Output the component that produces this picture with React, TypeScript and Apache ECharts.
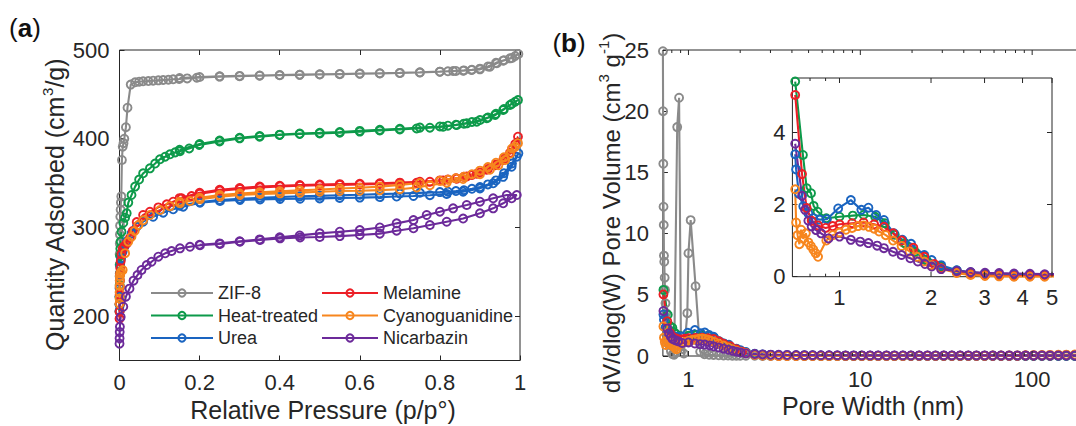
import React, { useEffect, useRef } from 'react';
import * as echarts from 'echarts';

const FONT = "'Liberation Sans', Arial, Helvetica, sans-serif";
const INK = '#262626';

// ---------- Panel (a): N2 isotherms ----------
const sampleNames = ['ZIF-8', 'Heat-treated', 'Urea', 'Melamine', 'Cyanoguanidine', 'Nicarbazin'];
const sampleColors = ['#8a8a8a', '#0d9a4a', '#1a64c0', '#ec1f26', '#f7861e', '#6c2a9a'];

const pTicks = [0, 0.2, 0.4, 0.6, 0.8, 1];
const qTicks = [200, 300, 400, 500];

const zif8Ads: [number, number][] = [
  [0.00005, 222], [0.0001, 232], [0.0002, 245], [0.0003, 258], [0.0005, 270], [0.0007, 282], [0.001, 292],
  [0.0014, 302], [0.002, 312], [0.0028, 320], [0.0035, 328], [0.0045, 335], [0.006, 376], [0.008, 391],
  [0.01, 395], [0.012, 400], [0.016, 413], [0.02, 435], [0.028, 461], [0.039, 463.6], [0.049, 464.3],
  [0.059, 464.7], [0.072, 465], [0.084, 465.4], [0.097, 465.8], [0.109, 466.2], [0.122, 466.5], [0.134, 467],
  [0.149, 467.3], [0.169, 468], [0.193, 468.8], [0.25, 470], [0.3, 470.5], [0.35, 471], [0.4, 471.5],
  [0.45, 472], [0.5, 472.4], [0.55, 472.8], [0.6, 473.2], [0.65, 473.6], [0.7, 474], [0.75, 474.6],
  [0.8, 475.5], [0.833, 476.3], [0.858, 476.7], [0.879, 477.5], [0.9, 478.2], [0.925, 481.2], [0.942, 485],
  [0.958, 488], [0.975, 490.6], [0.988, 493.2], [0.996, 495.5],
];
const zif8Des: [number, number][] = [
  [0.98, 491], [0.96, 488.5], [0.94, 485.5], [0.92, 481.5], [0.9, 479], [0.88, 477.8], [0.86, 477],
  [0.84, 476.4], [0.82, 476], [0.8, 475.6], [0.75, 474.8], [0.7, 474.2], [0.65, 473.8], [0.6, 473.4],
  [0.55, 473], [0.5, 472.6], [0.45, 472.2], [0.4, 471.8], [0.35, 471.3], [0.3, 470.8], [0.25, 470.3],
  [0.2, 469.5], [0.15, 468.5],
];
const heatAds: [number, number][] = [
  [0.00005, 205], [0.0001, 213], [0.0002, 222], [0.0004, 235], [0.0007, 248], [0.001, 258], [0.0015, 268],
  [0.002, 276], [0.003, 284], [0.005, 295], [0.0095, 305], [0.014, 311], [0.018, 316], [0.022, 328],
  [0.03, 336.5], [0.039, 346], [0.049, 354], [0.059, 361], [0.076, 366.6], [0.089, 372], [0.101, 376.8],
  [0.114, 379.7], [0.126, 382.4], [0.139, 384.6], [0.151, 386], [0.174, 389], [0.199, 392.9], [0.25, 397],
  [0.3, 400.4], [0.35, 402.3], [0.4, 404.2], [0.45, 405.3], [0.5, 406], [0.55, 406.8], [0.6, 408],
  [0.65, 409.2], [0.7, 410.4], [0.742, 411.6], [0.775, 412.4], [0.808, 413.5], [0.842, 415.4], [0.867, 417.3],
  [0.892, 419.2], [0.917, 423], [0.938, 426.7], [0.958, 432.4], [0.975, 438], [0.988, 441.7], [0.995, 443.6],
];
const heatDes: [number, number][] = [
  [0.98, 439.5], [0.96, 433.5], [0.94, 428], [0.92, 424], [0.9, 421], [0.88, 418.8], [0.86, 417],
  [0.84, 415.8], [0.82, 414.7], [0.8, 413.8], [0.75, 412.5], [0.7, 411.2], [0.65, 410], [0.6, 408.8],
  [0.55, 407.6], [0.5, 406.6], [0.45, 405.8], [0.4, 404.6], [0.35, 403], [0.3, 401], [0.25, 398],
  [0.2, 394], [0.15, 387.5],
];
const ureaAds: [number, number][] = [
  [0.00005, 206], [0.0001, 213], [0.0002, 222], [0.0004, 231], [0.0007, 240], [0.001, 247], [0.002, 256],
  [0.004, 265], [0.008, 273], [0.012, 278], [0.018, 284], [0.03, 293], [0.043, 300.8], [0.059, 306.5],
  [0.084, 312], [0.109, 316.6], [0.134, 320.4], [0.159, 323.4], [0.201, 327.8], [0.251, 329.8], [0.301, 331],
  [0.351, 331.6], [0.401, 332], [0.451, 332.3], [0.5, 332.7], [0.55, 333.3], [0.6, 333.6], [0.65, 334.2],
  [0.692, 334.8], [0.734, 335.4], [0.775, 336.3], [0.817, 337.7], [0.858, 340.3], [0.9, 344], [0.933, 349.7],
  [0.958, 357], [0.979, 368.4], [0.992, 379.7], [0.996, 383.5],
];
const ureaDes: [number, number][] = [
  [0.98, 372], [0.96, 361], [0.94, 353], [0.92, 348.5], [0.9, 345.5], [0.88, 343.5], [0.86, 342],
  [0.84, 341], [0.82, 340.3], [0.8, 339.8], [0.75, 339], [0.7, 338.2], [0.65, 337.5], [0.6, 336.8],
  [0.55, 336.2], [0.5, 335.6], [0.45, 335], [0.4, 334.3], [0.35, 333.4], [0.3, 332.4], [0.25, 331],
  [0.2, 328.6], [0.15, 324.5],
];
const melamineAds: [number, number][] = [
  [0.00005, 197], [0.0001, 205], [0.0002, 214], [0.0004, 224], [0.0007, 233], [0.001, 240], [0.0015, 248],
  [0.002, 254], [0.003, 262], [0.005, 270], [0.008, 276], [0.012, 279], [0.018, 282], [0.026, 288],
  [0.033, 296], [0.043, 306], [0.059, 314], [0.076, 317.7], [0.097, 322.6], [0.118, 326], [0.134, 329],
  [0.155, 332.8], [0.18, 335.4], [0.201, 338], [0.251, 341.5], [0.301, 343.5], [0.351, 345.2], [0.401, 346.2],
  [0.451, 347], [0.5, 347.5], [0.55, 348], [0.6, 348.5], [0.65, 349], [0.7, 349.5], [0.742, 350.3],
  [0.775, 351.5], [0.808, 353], [0.842, 355], [0.867, 357.5], [0.892, 360.5], [0.917, 365], [0.938, 370],
  [0.958, 376], [0.975, 384], [0.988, 394], [0.995, 402.3],
];
const melamineDes: [number, number][] = [
  [0.98, 388], [0.96, 378], [0.94, 371], [0.92, 366], [0.9, 362], [0.88, 359], [0.86, 357], [0.84, 355.5],
  [0.82, 354], [0.8, 353], [0.75, 351.5], [0.7, 350.5], [0.65, 349.8], [0.6, 349.3], [0.55, 348.8],
  [0.5, 348.3], [0.45, 347.8], [0.4, 347], [0.35, 346], [0.3, 344.5], [0.25, 342.5], [0.2, 339], [0.15, 333],
];
const cyanoAds: [number, number][] = [
  [0.00005, 214], [0.0001, 220], [0.0002, 227], [0.0004, 234], [0.0007, 240], [0.001, 245], [0.002, 248],
  [0.004, 250], [0.008, 252], [0.014, 271], [0.022, 284], [0.03, 289.5], [0.038, 296], [0.047, 302.7],
  [0.059, 308], [0.076, 314], [0.101, 319.6], [0.126, 324], [0.151, 327.2], [0.176, 329.8], [0.201, 331.7],
  [0.251, 334.6], [0.301, 336.5], [0.351, 337.7], [0.401, 338.4], [0.451, 339.2], [0.5, 340.3], [0.55, 341],
  [0.6, 341.3], [0.65, 342], [0.7, 343], [0.742, 345], [0.775, 347.5], [0.817, 350.5], [0.858, 354.5],
  [0.9, 360], [0.925, 365], [0.946, 370], [0.963, 376], [0.975, 383], [0.988, 391], [0.995, 395],
];
const cyanoDes: [number, number][] = [
  [0.98, 389], [0.96, 379], [0.94, 373], [0.92, 368], [0.9, 364], [0.88, 360], [0.86, 357.2], [0.84, 355.5],
  [0.82, 353.8], [0.8, 352.5], [0.75, 350], [0.7, 348], [0.65, 346], [0.6, 344.8], [0.55, 343.8],
  [0.5, 342.8], [0.45, 341.8], [0.4, 340.8], [0.35, 339.7], [0.3, 338.3], [0.25, 336.5], [0.2, 333.5],
  [0.15, 329],
];
const nicarbazinAds: [number, number][] = [
  [0.00005, 169], [0.0002, 175], [0.0005, 182], [0.001, 188], [0.003, 199], [0.0095, 210.6], [0.016, 222],
  [0.025, 231], [0.035, 240], [0.045, 246.3], [0.055, 252], [0.068, 257.6], [0.08, 261.3], [0.097, 267],
  [0.114, 270.8], [0.13, 273.4], [0.151, 276.4], [0.176, 278.2], [0.201, 280], [0.251, 281.3], [0.301, 283.9],
  [0.351, 285.8], [0.401, 287.7], [0.451, 288.7], [0.5, 289.2], [0.55, 290.2], [0.6, 291.5], [0.65, 293],
  [0.692, 296.3], [0.734, 299], [0.775, 302.7], [0.817, 306.4], [0.858, 310], [0.9, 315.9], [0.933, 321.5],
  [0.958, 327.2], [0.979, 332.8], [0.992, 336.5],
];
const nicarbazinDes: [number, number][] = [
  [0.967, 336.5], [0.933, 332.8], [0.9, 329], [0.867, 325.3], [0.833, 321.5], [0.8, 317.7], [0.767, 314],
  [0.734, 308.3], [0.692, 304.6], [0.65, 300], [0.6, 297], [0.55, 295.2], [0.5, 293.3], [0.45, 291],
  [0.4, 288.8], [0.35, 286.5], [0.3, 284.5], [0.25, 282], [0.2, 280.5],
];

// ---------- Panel (b): pore size distributions ----------
const widthTicks = [1, 10, 100];
const widthMinorTicks = [0.8, 0.9, 2, 3, 4, 5, 6, 7, 8, 9, 20, 30, 40, 50, 60, 70, 80, 90];
const insetWidthTicks = [1, 2, 3, 4, 5];
const insetWidthMinorTicks = [0.8, 0.9];
const insetVolTicks = [0, 2, 4];

const tailW = [2.16, 2.43, 2.70, 3.01, 3.35, 3.75, 4.23, 4.73, 5.28, 5.9, 6.58, 7.35, 8.2, 9.15, 10.2, 11.4,
  12.7, 14.2, 15.8, 17.7, 19.7, 22.0, 24.6, 27.4, 30.6, 34.1, 38.1, 42.5, 47.4, 52.9, 59.0, 65.9, 73.5, 82.0,
  91.5, 102, 114, 127, 142, 158, 177, 197];

const zifW = [0.71, 0.712, 0.714, 0.716, 0.718, 0.72, 0.723, 0.727, 0.73, 0.735, 0.742, 0.75, 0.76, 0.775,
  0.79, 0.81, 0.826, 0.86, 0.882, 0.905, 0.94, 0.985, 1.0, 1.03, 1.10, 1.17, 1.24, 1.32, 1.4, 1.5, 1.6, 1.7,
  1.8, 1.9, 2.0];
const zifV = [24.9, 20.0, 15.7, 12.2, 10.7, 8.2, 7.7, 6.4, 5.4, 4.3, 3.5, 2.5, 1.6, 0.9, 0.4, 0.15, 0.1,
  18.7, 21.1, 0.3, 0.2, 3.5, 8.4, 11.1, 5.7, 0.35, 0.15, 0.1, 0.08, 0.06, 0.05, 0.04, 0.03, 0.03, 0.02];
const zifTail = [0.02, 0.02, 0.01, 0.01, 0.01, 0.01, 0.01, 0.01, 0.01, 0.01, 0.01, 0.01, 0.01, 0.01, 0.01,
  0.01, 0.01, 0.01, 0.01, 0.01, 0.01, 0.01, 0.01, 0.01, 0.01, 0.01, 0.01, 0.01, 0.01, 0.01, 0.01, 0.01, 0.01,
  0.01, 0.01, 0.01, 0.01, 0.01, 0.01, 0.01, 0.01, 0.01];

const heatW = [0.715, 0.758, 0.78, 0.806, 0.822, 0.847, 0.905, 1.0, 1.106, 1.20, 1.31, 1.41, 1.52, 1.64, 1.77, 1.93];
const heatV = [5.4, 3.37, 2.45, 2.31, 1.96, 1.8, 1.62, 1.66, 1.69, 1.71, 1.66, 1.48, 1.16, 0.93, 0.69, 0.46];
const heatTail = [0.28, 0.17, 0.11, 0.08, 0.06, 0.05, 0.04, 0.04, 0.04, 0.03, 0.03, 0.03, 0.03, 0.03, 0.02,
  0.02, 0.02, 0.02, 0.02, 0.02, 0.02, 0.02, 0.02, 0.02, 0.02, 0.02, 0.02, 0.02, 0.02, 0.02, 0.02, 0.02, 0.02,
  0.02, 0.02, 0.02, 0.03, 0.03, 0.03, 0.03, 0.03, 0.03];

const ureaW = [0.715, 0.72, 0.735, 0.76, 0.79, 0.82, 0.86, 0.909, 0.99, 1.09, 1.18, 1.245, 1.32, 1.40, 1.51,
  1.61, 1.72, 1.90, 2.01];
const ureaV = [3.39, 2.97, 2.3, 1.95, 1.75, 1.62, 1.58, 1.59, 1.89, 2.12, 1.85, 1.91, 1.71, 1.57, 1.2, 1.02,
  0.91, 0.6, 0.46];
const ureaTail = [0.32, 0.18, 0.12, 0.09, 0.07, 0.06, 0.05, 0.05, 0.04, 0.04, 0.04, 0.03, 0.03, 0.03, 0.03,
  0.03, 0.03, 0.02, 0.02, 0.02, 0.02, 0.02, 0.02, 0.02, 0.02, 0.02, 0.02, 0.02, 0.02, 0.02, 0.02, 0.02, 0.02,
  0.02, 0.02, 0.02, 0.02, 0.03, 0.03, 0.03, 0.03, 0.03];

const melamineW = [0.715, 0.753, 0.78, 0.81, 0.85, 0.90, 0.95, 1.0, 1.1, 1.2, 1.3, 1.4, 1.5, 1.6, 1.75, 1.9, 2.05];
const melamineV = [5.03, 2.84, 1.9, 1.55, 1.42, 1.35, 1.4, 1.45, 1.48, 1.5, 1.45, 1.38, 1.2, 1.0, 0.8, 0.55, 0.35];
const melamineTail = [0.24, 0.12, 0.07, 0.04, 0.03, 0.02, 0.02, 0.02, 0.02, 0.02, 0.02, 0.02, 0.02, 0.02,
  0.02, 0.02, 0.02, 0.02, 0.02, 0.02, 0.02, 0.02, 0.02, 0.02, 0.02, 0.02, 0.02, 0.02, 0.03, 0.03, 0.03, 0.03,
  0.03, 0.03, 0.04, 0.04, 0.05, 0.05, 0.06, 0.06, 0.07, 0.07];

const cyanoW = [0.715, 0.72, 0.728, 0.738, 0.748, 0.76, 0.775, 0.79, 0.805, 0.82, 0.835, 0.85, 0.905, 0.95,
  1.0, 1.05, 1.1, 1.15, 1.2, 1.25, 1.3, 1.35, 1.42, 1.5, 1.6, 1.7, 1.8, 1.9, 2.0];
const cyanoV = [2.42, 1.5, 1.15, 0.9, 1.3, 1.05, 1.2, 0.95, 0.85, 0.75, 0.65, 0.55, 1.0, 1.15, 1.22, 1.3,
  1.35, 1.4, 1.42, 1.38, 1.33, 1.25, 1.15, 1.0, 0.85, 0.7, 0.55, 0.42, 0.32];
const cyanoTail = [0.22, 0.1, 0.05, 0.02, 0.01, 0.0, 0.0, 0.0, 0.0, 0.01, 0.01, 0.01, 0.01, 0.01, 0.01,
  0.01, 0.01, 0.01, 0.01, 0.01, 0.02, 0.02, 0.02, 0.02, 0.02, 0.02, 0.03, 0.03, 0.03, 0.03, 0.04, 0.04, 0.05,
  0.05, 0.06, 0.07, 0.08, 0.09, 0.1, 0.11, 0.12, 0.13];

const nicarbazinW = [0.715, 0.753, 0.77, 0.79, 0.81, 0.838, 0.87, 0.92, 1.0, 1.09, 1.17, 1.245, 1.33, 1.40,
  1.50, 1.60, 1.71, 1.81, 1.91, 2.01];
const nicarbazinV = [3.68, 2.24, 1.85, 1.55, 1.39, 1.29, 1.20, 1.06, 1.11, 1.02, 0.97, 0.93, 0.86, 0.79,
  0.69, 0.60, 0.51, 0.42, 0.35, 0.28];
const nicarbazinTail = [0.21, 0.16, 0.13, 0.11, 0.10, 0.09, 0.08, 0.07, 0.07, 0.06, 0.06, 0.06, 0.05, 0.05,
  0.05, 0.05, 0.05, 0.05, 0.05, 0.05, 0.05, 0.05, 0.05, 0.05, 0.05, 0.05, 0.05, 0.05, 0.05, 0.05, 0.05, 0.05,
  0.05, 0.05, 0.05, 0.05, 0.05, 0.05, 0.05, 0.05, 0.05, 0.05];

// ---------- helpers ----------
const zip = (xs: number[], ys: number[]) => xs.slice(0, Math.min(xs.length, ys.length)).map((x, i) => [x, ys[i]]);

const isotherms = [
  zif8Ads.concat(zif8Des), heatAds.concat(heatDes), ureaAds.concat(ureaDes),
  melamineAds.concat(melamineDes), cyanoAds.concat(cyanoDes), nicarbazinAds.concat(nicarbazinDes),
];
const psd = [
  zip(zifW.concat(tailW), zifV.concat(zifTail)),
  zip(heatW.concat(tailW), heatV.concat(heatTail)),
  zip(ureaW.concat(tailW), ureaV.concat(ureaTail)),
  zip(melamineW.concat(tailW), melamineV.concat(melamineTail)),
  zip(cyanoW.concat(tailW), cyanoV.concat(cyanoTail)),
  zip(nicarbazinW.concat(tailW), nicarbazinV.concat(nicarbazinTail)),
];

function lineSeries(name: string, color: string, data: any[], xi: number, yi: number) {
  return {
    type: 'line', name, data, xAxisIndex: xi, yAxisIndex: yi,
    symbol: 'circle', symbolSize: 8, showSymbol: true, showAllSymbol: true,
    lineStyle: { color, width: 2.1 },
    itemStyle: { color: 'rgba(255,255,255,0)', borderColor: color, borderWidth: 1.9 },
    emphasis: { disabled: true }, silent: true, clip: true, z: 3,
  };
}

// Mirrored (top + bottom) inside ticks on a log x axis, placed through the axis scale.
function logTickSeries(xi: number, yi: number, major: number[], minor: number[]) {
  const data = major.map((v) => [v, 1]).concat(minor.map((v) => [v, 0]));
  return {
    type: 'custom', xAxisIndex: xi, yAxisIndex: yi, silent: true, z: 10, clip: false,
    data, encode: { x: 0, y: 1 },
    renderItem: (params: any, api: any) => {
      const v = api.value(0);
      const isMajor = api.value(1) === 1;
      const cs = params.coordSys;
      const x = api.coord([v, 0])[0];
      const L = isMajor ? 5 : 3;
      const style = { stroke: INK, lineWidth: 1 };
      return {
        type: 'group',
        children: [
          { type: 'line', shape: { x1: x, y1: cs.y + cs.height, x2: x, y2: cs.y + cs.height - L }, style },
          { type: 'line', shape: { x1: x, y1: cs.y, x2: x, y2: cs.y + L }, style },
        ],
      };
    },
  };
}

const noLine = { show: false, onZero: false };
const tickStyle = { color: INK, width: 1 };
const lbl = (margin: number, extra: any = {}) => ({
  show: true, color: INK, fontFamily: FONT, fontSize: 22, margin, ...extra,
});
const noSplit = { show: false };
const gridBox = { show: true, backgroundColor: 'transparent', borderColor: INK, borderWidth: 1, containLabel: false, outerBoundsMode: 'none' };

function buildOption() {
  const xAxis: any[] = [
    // 0: (a) bottom
    { type: 'value', gridIndex: 0, min: 0, max: 1, position: 'bottom', axisLine: noLine,
      axisTick: { show: true, inside: true, length: 5, lineStyle: tickStyle, customValues: pTicks },
      axisLabel: lbl(11, { customValues: pTicks, formatter: (v: number) => String(v) }), splitLine: noSplit },
    // 1: (a) top
    { type: 'value', gridIndex: 0, min: 0, max: 1, position: 'top', axisLine: noLine,
      axisTick: { show: true, inside: true, length: 5, lineStyle: tickStyle, customValues: pTicks },
      axisLabel: { show: false }, splitLine: noSplit },
    // 2: (b) pore width, log
    { type: 'log', logBase: 10, gridIndex: 1, min: 0.71, max: 200, position: 'bottom', axisLine: noLine,
      axisTick: { show: false }, axisLabel: lbl(12, { customValues: widthTicks }), splitLine: noSplit },
    // 3: inset pore width, log
    { type: 'log', logBase: 10, gridIndex: 2, min: 0.7, max: 5, position: 'bottom', axisLine: noLine,
      axisTick: { show: false }, axisLabel: lbl(10, { customValues: insetWidthTicks }), splitLine: noSplit },
  ];
  const yAxis: any[] = [
    // 0: (a) left
    { type: 'value', gridIndex: 0, min: 150, max: 500, position: 'left', axisLine: noLine,
      axisTick: { show: true, inside: true, length: 5, lineStyle: tickStyle, customValues: qTicks },
      axisLabel: lbl(10, { customValues: qTicks }), splitLine: noSplit },
    // 1: (a) right
    { type: 'value', gridIndex: 0, min: 150, max: 500, position: 'right', axisLine: noLine,
      axisTick: { show: true, inside: true, length: 5, lineStyle: tickStyle, customValues: qTicks },
      axisLabel: { show: false }, splitLine: noSplit },
    // 2: (b) left
    { type: 'value', gridIndex: 1, min: 0, max: 25, interval: 5, position: 'left', axisLine: noLine,
      axisTick: { show: true, inside: true, length: 5, lineStyle: tickStyle },
      axisLabel: lbl(14), splitLine: noSplit },
    // 3: inset left
    { type: 'value', gridIndex: 2, min: 0, max: 5.5, position: 'left', axisLine: noLine,
      axisTick: { show: true, inside: true, length: 5, lineStyle: tickStyle, customValues: insetVolTicks },
      axisLabel: lbl(7, { customValues: insetVolTicks }), splitLine: noSplit },
    // 4: inset right
    { type: 'value', gridIndex: 2, min: 0, max: 5.5, position: 'right', axisLine: noLine,
      axisTick: { show: true, inside: true, length: 5, lineStyle: tickStyle, customValues: insetVolTicks },
      axisLabel: { show: false }, splitLine: noSplit },
  ];

  const series: any[] = [];
  sampleNames.forEach((n, i) => series.push(lineSeries(n, sampleColors[i], isotherms[i], 0, 0)));
  sampleNames.forEach((n, i) => series.push(lineSeries(n, sampleColors[i], psd[i], 2, 2)));
  sampleNames.forEach((n, i) => { if (i > 0) series.push(lineSeries(n, sampleColors[i], psd[i], 3, 3)); });
  series.push(logTickSeries(2, 2, widthTicks, widthMinorTicks));
  series.push(logTickSeries(3, 3, insetWidthTicks, insetWidthMinorTicks));

  const legendBase = {
    orient: 'vertical', top: 284, itemHeight: 9, itemGap: 4.5, selectedMode: false,
    textStyle: { fontFamily: FONT, fontSize: 18, color: INK }, padding: 0,
  };

  const titleStyle = { fontFamily: FONT, fontSize: 25, fill: INK, align: 'center', verticalAlign: 'middle', lineHeight: 30 };
  const sup = { fontSize: 15, verticalAlign: 'top', lineHeight: 15, fontFamily: FONT, fill: INK };

  return {
    animation: false,
    backgroundColor: '#ffffff',
    grid: [
      { ...gridBox, left: 119.5, top: 50, width: 400.5, height: 310.5 },
      { ...gridBox, left: 662.9, top: 50, width: 421, height: 306 },
      { ...gridBox, left: 792.4, top: 78, width: 259.6, height: 198.7 },
    ],
    xAxis, yAxis, series,
    legend: [
      { ...legendBase, left: 150, itemWidth: 62, data: ['ZIF-8', 'Heat-treated', 'Urea'] },
      { ...legendBase, left: 321, itemWidth: 56, data: ['Melamine', 'Cyanoguanidine', 'Nicarbazin'] },
    ],
    graphic: [
      { type: 'text', x: 25, y: 28, style: { text: '({b|a})', fontFamily: FONT, fontSize: 26, fill: '#111',
        align: 'center', verticalAlign: 'middle', rich: { b: { fontWeight: 'bold', fontSize: 26, fontFamily: FONT, fill: '#111' } } } },
      { type: 'text', x: 569, y: 43, style: { text: '({b|b})', fontFamily: FONT, fontSize: 26, fill: '#111',
        align: 'center', verticalAlign: 'middle', rich: { b: { fontWeight: 'bold', fontSize: 26, fontFamily: FONT, fill: '#111' } } } },
      { type: 'text', x: 55, y: 205, rotation: Math.PI / 2,
        style: { ...titleStyle, text: 'Quantity Adsorbed (cm{s|3}/g)', rich: { s: sup } } },
      { type: 'text', x: 323, y: 410, style: { ...titleStyle, text: 'Relative Pressure (p/p°)' } },
      { type: 'text', x: 611, y: 213, rotation: Math.PI / 2,
        style: { ...titleStyle, fontSize: 24, text: 'dV/dlog(W) Pore Volume (cm{s|3} g{s|-1})', rich: { s: sup } } },
      { type: 'text', x: 873, y: 406, style: { ...titleStyle, text: 'Pore Width (nm)' } },
    ],
  };
}

export default function App() {
  const ref = useRef<HTMLDivElement>(null);
  useEffect(() => {
    if (!ref.current) return;
    const chart = echarts.init(ref.current, null, { renderer: 'svg' });
    chart.setOption(buildOption() as any);
    return () => chart.dispose();
  }, []);
  return (
    <div
      ref={ref}
      style={{ position: 'absolute', left: 0, top: 0, width: 1076, height: 426, overflow: 'hidden', background: '#fff' }}
    />
  );
}
